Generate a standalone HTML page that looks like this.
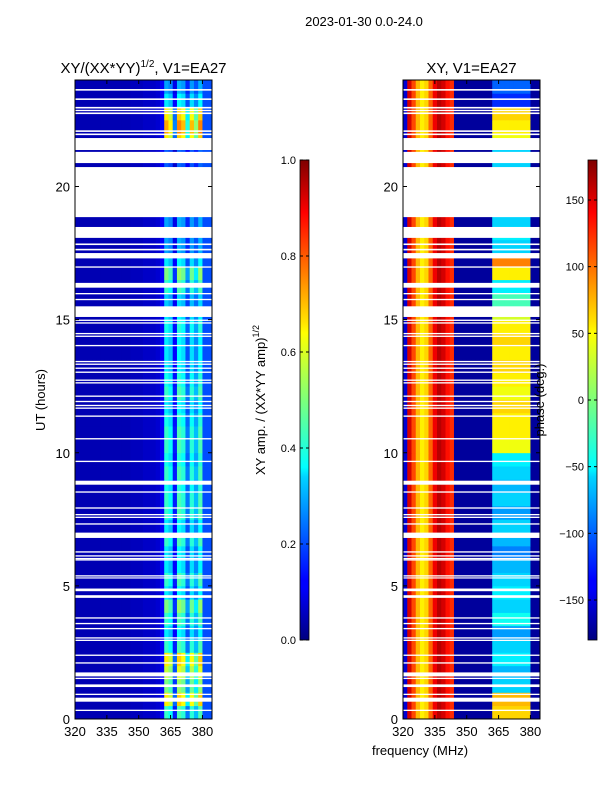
<!DOCTYPE html>
<html><head><meta charset="utf-8"><style>
body{margin:0;background:#fff;width:600px;height:800px;overflow:hidden}
svg text{font-family:"Liberation Sans","DejaVu Sans",sans-serif;fill:#000}
</style></head><body>
<svg id="fig" width="600" height="800" xmlns="http://www.w3.org/2000/svg">
<defs>
<linearGradient id="jet" x1="0" y1="1" x2="0" y2="0">
<stop offset="0" stop-color="#00007f"/><stop offset="0.11" stop-color="#0000ff"/><stop offset="0.125" stop-color="#0000ff"/>
<stop offset="0.34" stop-color="#00d4ff"/><stop offset="0.36" stop-color="#0ff"/><stop offset="0.5" stop-color="#7dff7a"/>
<stop offset="0.64" stop-color="#ffff00"/><stop offset="0.66" stop-color="#ffe600"/><stop offset="0.89" stop-color="#ff0000"/><stop offset="1" stop-color="#7f0000"/>
</linearGradient>
</defs>
<text x="364" y="26" font-size="13" text-anchor="middle">2023-01-30 0.0-24.0</text>
<g id="p1"></g><g id="p2"></g><g id="cb"></g>
</svg>
<script>
const freqEdges = [320,322,324,326,328,330,332,334,336,338,340,342,344,346,348,350,352,354,356,358,360,362,364,366,368,370,372,374,376,378,380,384.5];
const ampCol = [0.05,0.05,0.05,0.05,0.05,0.05,0.05,0.05,0.05,0.05,0.05,0.05,0.05,0.06,0.06,0.06,0.07,0.07,0.07,0.08,0.12,0.62,0.55,0.22,0.65,0.6,0.35,0.6,0.45,0.65,0.2];
const ampRow = [0.6,0.9,0.7,0.8,0.9,0.6,0.5,0.6,0.7,0.5,0.6,0.5,0.5,0.6,0.5,0.6,0.6,0.55,0.6,0.55,0.6,0.6,0.55,0.5,0.6,0.55,0.5,0.5,0.5,0.55,0.5,0.45,0.6,0.7,0.5,0.4,0.4,0.4,0.3,0.3,0.3,0.3,0.3,0.9,1.0,0.9,0.5,0.4];
const phaseCol = [-150,150,110,70,50,60,100,140,160,150,130,120,-170,-170,-170,-170,-170,-170,-170,-170,-170,null,null,null,null,null,null,null,null,null,-170];
const phaseBand = [60,70,-60,-70,-50,-60,-80,-40,-60,-50,-60,-70,-90,-70,-60,-80,-60,-70,-60,-50,40,50,50,60,40,50,60,50,60,50,30,-20,-50,50,90,-60,-50,-60,-60,-60,-60,-60,-60,40,50,60,-120,-100];
const gaps = [[18.85,20.73],[21.37,21.82],[20.88,21.3],[18.07,18.48],[17.3,17.5],[16.2,16.38],[15.1,15.5],[8.8,8.95],[6.8,7.0],[4.8,4.9],[4.55,4.65],[1.6,1.75],[1.2,1.3],[0.65,0.8],
 [23.6,23.66],[23.25,23.31],[22.93,22.99],[22.83,22.88],[22.72,22.78],[22.05,22.11],[21.93,21.99],[17.8,17.86],[17.6,17.66],[16.95,17.0],[15.95,16.0],[15.73,15.78],[14.95,15.0],[14.85,14.9],[14.45,14.5],[14.35,14.4],[14.0,14.05],[13.4,13.45],[13.3,13.35],[13.15,13.2],[13.0,13.05],[12.7,12.75],[12.6,12.65],[12.1,12.15],
 [11.9,11.95],[11.75,11.8],[11.65,11.7],[11.35,11.4],[10.5,10.55],[9.65,9.7],[8.5,8.55],[7.9,7.95],[7.65,7.7],[7.55,7.6],[7.3,7.35],[6.25,6.3],[6.1,6.15],[6.0,6.05],[5.95,6.0],[5.35,5.4],[5.28,5.32],[3.77,3.82],[3.56,3.61],[3.37,3.42],[3.02,3.07],[2.93,2.98],[2.37,2.42],[2.08,2.13],[1.5,1.55],[0.9,0.95],[0.3,0.35]];
const yTicks = [0,5,10,15,20];
const xTicks = [320,335,350,365,380];
const ampTicks = [0.0,0.2,0.4,0.6,0.8,1.0];
const phaseTicks = [-150,-100,-50,0,50,100,150];

const NS='http://www.w3.org/2000/svg';
function mk(p,tag,a,txt){const e=document.createElementNS(NS,tag);for(const k in a)e.setAttribute(k,a[k]);if(txt!==undefined)e.textContent=txt;p.appendChild(e);return e;}
function jet(v){v=Math.max(0,Math.min(1,v));
 const r=Math.max(0,Math.min(1,1.5-Math.abs(4*v-3))),g=Math.max(0,Math.min(1,1.5-Math.abs(4*v-2))),b=Math.max(0,Math.min(1,1.5-Math.abs(4*v-1)));
 return `rgb(${Math.round(r*255)},${Math.round(g*255)},${Math.round(b*255)})`;}
const plotTop=80,plotBot=719,fMin=320,fMax=384.5;
const yS=ut=>plotBot-(ut/24)*(plotBot-plotTop);
function panel(gid,x0,x1,title,valFn){
 const g=document.getElementById(gid);
 const xS=f=>x0+(f-fMin)/(fMax-fMin)*(x1-x0);
 const nRows=ampRow.length, dt=24/nRows;
 for(let i=0;i<nRows;i++){for(let j=0;j<freqEdges.length-1;j++){
  const c=mk(g,'rect',{x:xS(freqEdges[j]),y:yS((i+1)*dt),width:xS(freqEdges[j+1])-xS(freqEdges[j])+0.4,height:yS(i*dt)-yS((i+1)*dt)+0.4,fill:jet(valFn(i,j))});
  
  
 }}
 gaps.forEach(gp=>{const r=mk(g,'rect',{x:x0,y:yS(gp[1]),width:x1-x0,height:Math.max(1.2,yS(gp[0])-yS(gp[1])),fill:'#fff'});
  
  });
 const fr=mk(g,'rect',{x:x0,y:plotTop,width:x1-x0,height:plotBot-plotTop,fill:'none',stroke:'#000','stroke-width':1});
 
 
 yTicks.forEach(t=>{const y=yS(t);mk(g,'line',{x1:x0,x2:x0+4,y1:y,y2:y,stroke:'#000'});mk(g,'line',{x1:x1-4,x2:x1,y1:y,y2:y,stroke:'#000'});
  const l=mk(g,'text',{x:x0-5,y:y+5,'font-size':13,'text-anchor':'end'},String(t));
  
  });
 xTicks.forEach(t=>{const x=xS(t);mk(g,'line',{x1:x,x2:x,y1:plotBot,y2:plotBot-4,stroke:'#000'});mk(g,'line',{x1:x,x2:x,y1:plotTop,y2:plotTop+4,stroke:'#000'});
  const l=mk(g,'text',{x:x,y:plotBot+17,'font-size':13,'text-anchor':'middle'},String(t));
  
  });
 const tt=mk(g,'text',{x:(x0+x1)/2,y:73,'font-size':15,'text-anchor':'middle'});
 tt.innerHTML=title;
 
 
}
panel('p1',75,212,'XY/(XX*YY)<tspan dy="-6" font-size="10">1/2</tspan><tspan dy="6">, V1=EA27</tspan>',(i,j)=>Math.min(1,ampCol[j]*(j>20&&j<30?ampRow[i]*1.15:1)));
panel('p2',403,540,'XY, V1=EA27',(i,j)=>{const p=phaseCol[j]===null?phaseBand[i]:phaseCol[j];return (p+180)/360;});

const cb=document.getElementById('cb');
function colorbar(x,ticks,lo,hi,fmt,name){
 const r=mk(cb,'rect',{x:x,y:160,width:9,height:480,fill:'url(#jet)',stroke:'#000','stroke-width':0.8});
 
 
 ticks.forEach(t=>{const y=640-(t-lo)/(hi-lo)*480;mk(cb,'line',{x1:x,x2:x+3,y1:y,y2:y,stroke:'#000'});mk(cb,'line',{x1:x+6,x2:x+9,y1:y,y2:y,stroke:'#000'});
  const l=mk(cb,'text',{x:x-4,y:y+4,'font-size':11,'text-anchor':'end'},fmt(t));
  
  });
}
colorbar(300,ampTicks,0,1,t=>t.toFixed(1),'amplitude-colorbar');
colorbar(588,phaseTicks,-180,180,t=>String(t).replace('-','\u2212'),'phase-colorbar');
const l1=mk(cb,'text',{transform:'translate(265,400) rotate(-90)','font-size':13,'text-anchor':'middle'});
l1.innerHTML='XY amp. / (XX*YY amp)<tspan dy="-6" font-size="9">1/2</tspan>';


const l2=mk(cb,'text',{transform:'translate(544,400) rotate(-90)','font-size':13,'text-anchor':'middle'},'phase (deg.)');


const yl=mk(cb,'text',{transform:'translate(45,400) rotate(-90)','font-size':13,'text-anchor':'middle'},'UT (hours)');


const xl=mk(cb,'text',{x:420,y:755,'font-size':13,'text-anchor':'middle'},'frequency (MHz)');


</script>
</body></html>
